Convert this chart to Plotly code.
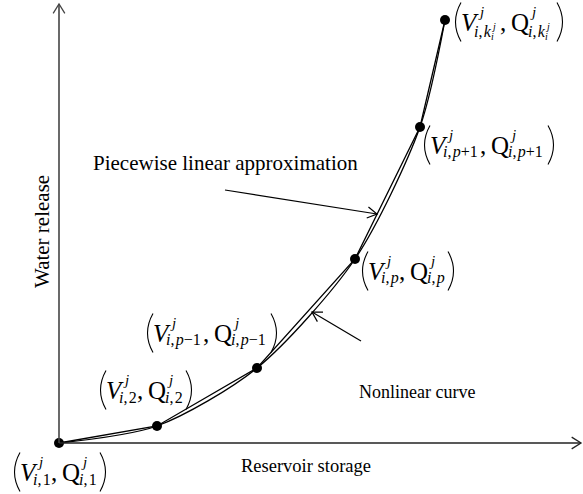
import math
import plotly.graph_objects as go

# ---- data (arbitrary storage / release units) ----
storage = [0, 98, 198, 296, 361, 386]
release = [0, 17, 75, 184, 316, 423]
point_subs = ["<i>i</i>,\u200a1", "<i>i</i>,\u200a2", "<i>i</i>,\u200a<i>p</i>−1",
              "<i>i</i>,\u200a<i>p</i>", "<i>i</i>,\u200a<i>p</i>+1", "<i>i</i>,\u200a<i>k</i>"]
x_title = "Reservoir storage"
y_title = "Water release"
linear_label = "Piecewise linear approximation"
curve_label = "Nonlinear curve"

FONT = "Liberation Serif"
INK = "black"

fig = go.Figure()
fig.add_trace(go.Scatter(x=storage, y=release, mode="lines",
                         line=dict(shape="spline", smoothing=0.8, color=INK, width=1.3),
                         hoverinfo="skip"))
fig.add_trace(go.Scatter(x=storage, y=release, mode="lines+markers",
                         line=dict(color=INK, width=1.3),
                         marker=dict(size=10, color=INK),
                         hoverinfo="skip"))

shapes = []
annotations = []


def seg(x0, y0, x1, y1, color=INK, width=1.3):
    shapes.append(dict(type="line", x0=x0, y0=y0, x1=x1, y1=y1, xref="x", yref="y",
                       line=dict(color=color, width=width)))


def chevron(tx, ty, fx, fy, length=11, half=30, color=INK, width=1.3):
    ang = math.atan2(ty - fy, tx - fx)
    pts = []
    for s in (1, -1):
        a = ang + math.pi + s * math.radians(half)
        pts.append((tx + length * math.cos(a), ty + length * math.sin(a)))
    path = f"M {pts[0][0]:.2f},{pts[0][1]:.2f} L {tx:.2f},{ty:.2f} L {pts[1][0]:.2f},{pts[1][1]:.2f}"
    shapes.append(dict(type="path", path=path, xref="x", yref="y",
                       line=dict(color=color, width=width)))


def text(x, y, t, size, anchor="left", angle=0):
    annotations.append(dict(x=x, y=y, xref="x", yref="y", text=t, showarrow=False,
                            xanchor=anchor, yanchor="middle", textangle=angle,
                            borderpad=0,
                            font=dict(family=FONT, size=size, color=INK)))


def paren(x, yc, left=True, h=39):
    if left:
        p = f"M {x+8},{yc+h/2} Q {x-3},{yc} {x+8},{yc-h/2}"
    else:
        p = f"M {x},{yc+h/2} Q {x+11},{yc} {x},{yc-h/2}"
    shapes.append(dict(type="path", path=p, xref="x", yref="y",
                       line=dict(color=INK, width=1.1)))


# axes with open arrow heads
x_end, y_end = 522, 439
seg(0, 0, x_end, 0, color="#222", width=1.4)
chevron(x_end, 0, 0, 0, length=11, half=32, color="#222", width=1.3)
seg(0, 0, 0, y_end, color="#444", width=1.6)
chevron(0, y_end, 0, 0, length=11, half=32, color="#444", width=1.3)

# pointer arrows
a1 = ((166, 253), (318, 229))
a2 = ((302, 102), (253, 131))
for (fx, fy), (tx, ty) in (a1, a2):
    seg(fx, fy, tx, ty, width=1.2)
    chevron(tx, ty, fx, fy, length=11, half=30, width=1.2)

# point labels (offsets in px from point: left edge, vertical centre)
LABEL_OFFSETS = [(-47, 29), (-59, -36), (-112, -35), (5, 12), (2, 18), (8, 2)]
SUB_W = [20, 20, 39, 20, 39, 28]

for i, (sx, ry) in enumerate(zip(storage, release)):
    dx, dy = LABEL_OFFSETS[i]
    lx, ly = sx + dx, ry - dy
    sw = SUB_W[i]
    sub = point_subs[i]
    is_k = i == len(storage) - 1
    sub_dy = 9 if is_k else 7

    def put(ox, oy, t, size):
        text(lx + ox, ly - oy, t, size)

    paren(lx, ly, True)
    put(7, 0, "<i>V</i>", 25)
    put(24, -10, "<i>j</i>", 15)
    put(20, sub_dy, sub, 16)
    if is_k:
        put(37, sub_dy - 5, "<i>j</i>", 10)
        put(37, sub_dy + 5, "<i>i</i>", 10)
    put(18 + sw, 0, ",", 25)
    xq = 29 + sw
    put(xq, 0, "Q", 25)
    put(xq + 19, -10, "<i>j</i>", 15)
    put(xq + 17, sub_dy, sub, 16)
    if is_k:
        put(xq + 34, sub_dy - 5, "<i>j</i>", 10)
        put(xq + 34, sub_dy + 5, "<i>i</i>", 10)
    paren(lx + xq + 19 + sw, ly, False)

# titles / callouts
text(247, -23, x_title, 18.5, anchor="center")
text(-17, 211, y_title, 21, anchor="center", angle=-90)
text(33, 280, linear_label, 21)
text(299, 51, curve_label, 18)

fig.update_layout(
    width=583, height=494,
    margin=dict(l=0, r=0, t=0, b=0),
    paper_bgcolor="white", plot_bgcolor="white",
    showlegend=False,
    hovermode=False,
    xaxis=dict(visible=False, range=[-59, 524], fixedrange=True),
    yaxis=dict(visible=False, range=[-51, 443], fixedrange=True),
    shapes=shapes,
    annotations=annotations,
)

fig.write_html("out.html",
               config={"displayModeBar": False},
               post_script="document.body.style.margin='0';document.body.style.overflow='hidden';")
